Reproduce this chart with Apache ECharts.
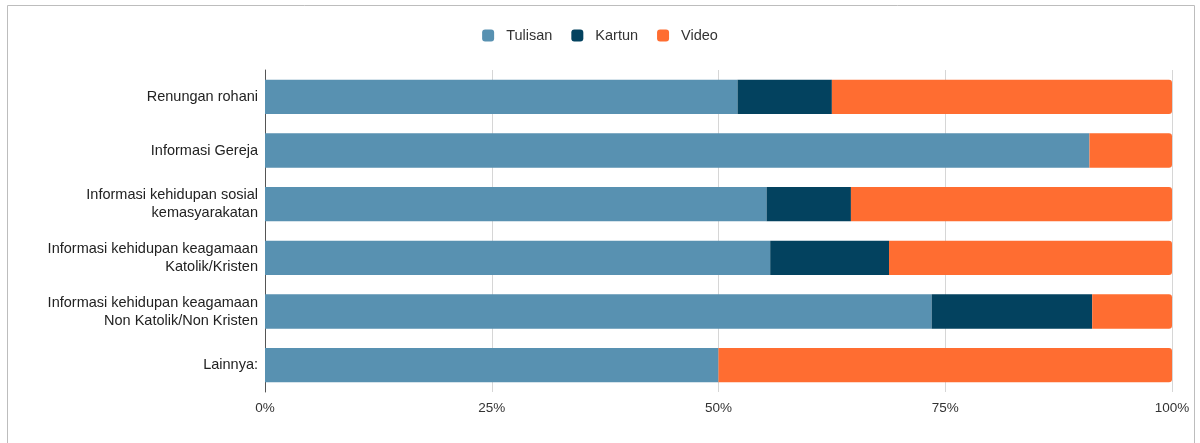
<!DOCTYPE html>
<html>
<head>
<meta charset="utf-8">
<style>
  html, body { margin: 0; padding: 0; background: #fff; }
  #chart { width: 1200px; height: 443px; }
</style>
<script src="https://cdn.jsdelivr.net/npm/echarts@6/dist/echarts.min.js"></script>
</head>
<body>
<div id="chart"></div>
<script>
// Topics (top to bottom)
const categories = [
  'Renungan rohani',
  'Informasi Gereja',
  'Informasi kehidupan sosial\nkemasyarakatan',
  'Informasi kehidupan keagamaan\nKatolik/Kristen',
  'Informasi kehidupan keagamaan\nNon Katolik/Non Kristen',
  'Lainnya:'
];

// Share of each format, in percent
const tulisan = [52.1, 90.9, 55.3, 55.7, 73.5, 50.0];
const kartun  = [10.4, 0,    9.3, 13.1, 17.7, 0];
const video   = [37.5, 9.1, 35.4, 31.2,  8.8, 50.0];

const seriesNames = ['Tulisan', 'Kartun', 'Video'];
const colors = ['#5891b1', '#03425f', '#ff6d31'];
const xTicks = [0, 25, 50, 75, 100];

const chart = echarts.init(document.getElementById('chart'), null, { renderer: 'canvas' });

const font = 'Liberation Sans, Arial, sans-serif';

function bar(name, data, color, last) {
  return {
    name: name,
    type: 'bar',
    stack: 'total',
    data: data,
    barCategoryGap: '36%',
    itemStyle: { color: color, borderRadius: last ? [0, 3, 3, 0] : 0 },
    emphasis: { disabled: true },
    silent: true
  };
}

chart.setOption({
  animation: false,
  color: colors,
  textStyle: { fontFamily: font },
  graphic: [{
    type: 'polyline',
    shape: { points: [[7.5, 460], [7.5, 5.5], [1194.5, 5.5], [1194.5, 460]] },
    style: { stroke: '#bdbdbd', lineWidth: 1, fill: null },
    silent: true
  }],
  legend: {
    top: 23,
    left: 'center',
    itemWidth: 12,
    itemHeight: 12,
    itemGap: 19,
    icon: 'roundRect',
    textStyle: { fontFamily: font, fontSize: 14.5, color: '#333', padding: [0, 0, 0, 7] },
    data: seriesNames
  },
  grid: { left: 265, right: 28, top: 70, bottom: 51, containLabel: false },
  xAxis: {
    type: 'value',
    min: xTicks[0],
    max: xTicks[xTicks.length - 1],
    interval: 25,
    axisLine: { show: false },
    axisTick: { show: false },
    splitLine: { lineStyle: { color: '#d6d6d6', width: 1 } },
    axisLabel: {
      formatter: '{value}%',
      fontFamily: font,
      fontSize: 13.5,
      color: '#333',
      margin: 9
    }
  },
  yAxis: {
    type: 'category',
    data: categories,
    inverse: true,
    axisLine: { show: true, lineStyle: { color: '#555', width: 1 } },
    axisTick: { show: false },
    axisLabel: {
      fontFamily: font,
      fontSize: 14.5,
      color: '#222',
      lineHeight: 18,
      margin: 7,
      align: 'right'
    }
  },
  series: [
    bar(seriesNames[0], tulisan, colors[0], false),
    bar(seriesNames[1], kartun, colors[1], false),
    bar(seriesNames[2], video, colors[2], true)
  ]
});
</script>
</body>
</html>
